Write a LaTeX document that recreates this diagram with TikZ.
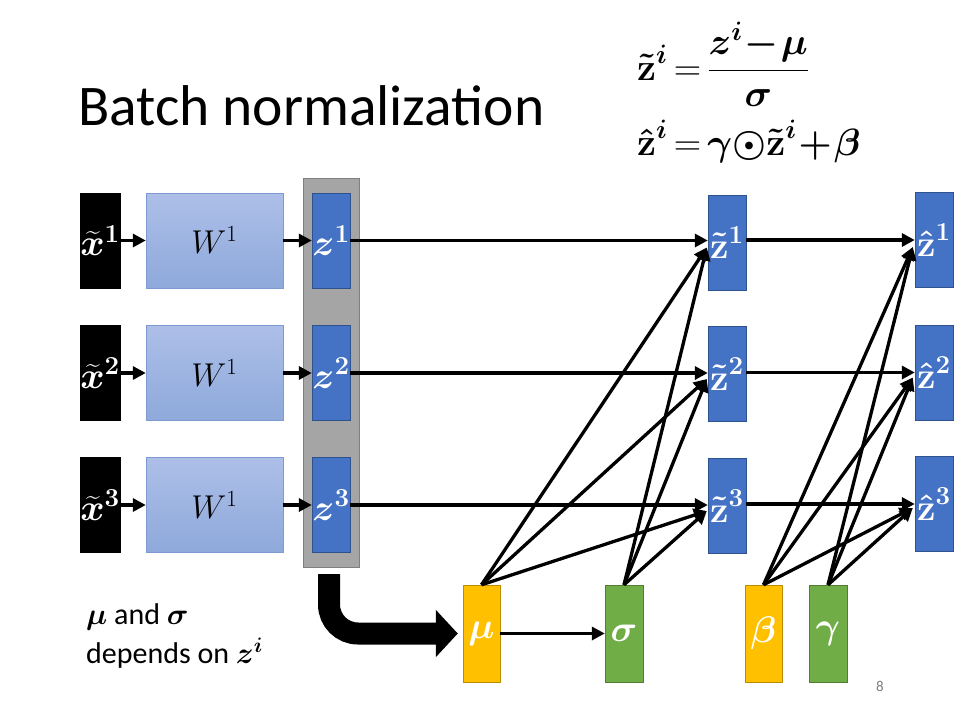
\RequirePackage{fix-cm}
\documentclass[tikz,border=0pt]{standalone}
\usepackage{amsmath,bm}
\usepackage[no-math]{fontspec}
\setmainfont{Carlito}
\usetikzlibrary{arrows.meta, calc}

\definecolor{zblue}{HTML}{4472C4}
\definecolor{zedge}{HTML}{2F528F}
\definecolor{wtop}{HTML}{ADBFE8}
\definecolor{wbot}{HTML}{8EA9DB}
\definecolor{wedge}{HTML}{7F9AD0}
\definecolor{gfill}{HTML}{A5A5A5}
\definecolor{gedge}{HTML}{7F7F7F}
\definecolor{ogold}{HTML}{FFC000}
\definecolor{oedge}{HTML}{BC8C00}
\definecolor{ggreen}{HTML}{70AD47}
\definecolor{ggedge}{HTML}{507E32}

\tikzset{
  tall/.style={minimum width=38pt, minimum height=95pt, inner sep=0pt,
    text=white, font=\fontsize{37}{42}\selectfont},
  xbox/.style={tall, draw=black, fill=black},
  wbox/.style={draw=wedge, top color=wtop, bottom color=wbot,
    minimum width=137pt, minimum height=95pt, inner sep=0pt,
    font=\fontsize{33}{38}\selectfont},
  zbox/.style={tall, draw=zedge, fill=zblue},
  obox/.style={tall, draw=oedge, fill=ogold, minimum width=37pt, minimum height=97pt},
  gbox/.style={tall, draw=ggedge, fill=ggreen, minimum height=97pt},
  arr/.style={line width=3.3pt, -{Triangle[length=13pt,width=13pt]}},
}

\begin{document}
\begin{tikzpicture}[x=1pt, y=-1pt]
  \path[fill=white, use as bounding box] (0,0) rectangle (960,720);

  % Title and formulas
  \node[anchor=base west, inner sep=0pt, font=\fontsize{57.5}{62}\selectfont]
    (title) at (78,125) {Batch normalization};
  \node[anchor=base west, inner sep=0pt, font=\fontsize{38}{44}\selectfont]
    (eqone) at (637,80)
    {$\bm{\tilde{\mathrm{z}}^{i}}\mskip-2mu=\mskip-2mu\dfrac{\bm{z^{i}\mskip-3mu-\mskip-3mu\mu}}{\bm{\sigma}}$};
  \node[anchor=base west, inner sep=0pt, font=\fontsize{38}{44}\selectfont]
    (eqtwo) at (637,155)
    {$\bm{\hat{\mathrm{z}}^{i}}\mskip-2mu=\mskip-2mu\bm{\gamma{\odot}\tilde{\mathrm{z}}^{i}\mskip-3mu+\mskip-3mu\beta}$};

  % Gray group behind z
  \node[draw=gedge, fill=gfill, minimum width=56pt, minimum height=389pt]
    (group) at (331,372.5) {};

  % Row 1
  \node[xbox] (x1) at (100,240.5) {$\bm{\widetilde{x}}^{\mathbf{1}}$};
  \node[wbox] (w1) at (214.5,240.5) {$W^{1}$};
  \node[zbox] (z1) at (331,240.5) {$\bm{z}^{\mathbf{1}}$};
  \node[zbox] (zt1) at (727,242.5) {$\bm{\tilde{\mathrm{z}}}^{\mathbf{1}}$};
  \node[zbox] (zh1) at (934,240) {$\bm{\hat{\mathrm{z}}}^{\mathbf{1}}$};
  % Row 2
  \node[xbox] (x2) at (100,373) {$\bm{\widetilde{x}}^{\mathbf{2}}$};
  \node[wbox] (w2) at (214.5,373) {$W^{1}$};
  \node[zbox] (z2) at (331,373) {$\bm{z}^{\mathbf{2}}$};
  \node[zbox] (zt2) at (727,374) {$\bm{\tilde{\mathrm{z}}}^{\mathbf{2}}$};
  \node[zbox] (zh2) at (934,372.5) {$\bm{\hat{\mathrm{z}}}^{\mathbf{2}}$};
  % Row 3
  \node[xbox] (x3) at (100,505) {$\bm{\widetilde{x}}^{\mathbf{3}}$};
  \node[wbox] (w3) at (214.5,505) {$W^{1}$};
  \node[zbox] (z3) at (331,505) {$\bm{z}^{\mathbf{3}}$};
  \node[zbox] (zt3) at (727,506) {$\bm{\tilde{\mathrm{z}}}^{\mathbf{3}}$};
  \node[zbox] (zh3) at (934,504) {$\bm{\hat{\mathrm{z}}}^{\mathbf{3}}$};

  % Statistics and parameters
  \node[obox] (mu) at (481.5,633.5) {$\bm{\mu}$};
  \node[gbox] (sigma) at (624,633.5) {$\bm{\sigma}$};
  \node[obox] (beta) at (763.5,633.5) {$\bm{\beta}$};
  \node[gbox] (gamma) at (828,633.5) {$\bm{\gamma}$};

  % Note and page number
  \node[anchor=base west, inner sep=0pt, align=left,
    font=\fontsize{30}{39}\selectfont] (note) at (86,663)
    {$\bm{\mu}$ and $\bm{\sigma}$\\depends on $\bm{z^{i}}$};
  \node[text=gray, font=\fontsize{15}{18}\selectfont] (page) at (880,686) {8};

  % Big arrow into mu
  \draw[line width=22pt, rounded corners=29pt, shorten >=5pt,
    -{Triangle[length=22pt,width=46pt]}]
    ($(group.south)+(-2,7)$) |- (mu.west);

  % Forward arrows
  \draw[arr] (x1.east) -- (w1.west);
  \draw[arr] (x2.east) -- (w2.west);
  \draw[arr] (x3.east) -- (w3.west);
  \draw[arr] (w1.east) -- (z1.west);
  \draw[arr] (w2.east) -- (z2.west);
  \draw[arr] (w3.east) -- (z3.west);
  \draw[arr] (z1.east) -- (z1.east -| zt1.west);
  \draw[arr] (z2.east) -- (z2.east -| zt2.west);
  \draw[arr] (z3.east) -- (z3.east -| zt3.west);
  \draw[arr] (zt1.east |- zh1.west) -- (zh1.west);
  \draw[arr] (zt2.east |- zh2.west) -- (zh2.west);
  \draw[arr] (zt3.east |- zh3.west) -- (zh3.west);
  \draw[arr] (mu.east) -- (sigma.west);

  % mu and sigma to z tilde
  \draw[arr] (mu.north) -- ($(zt1.west)+(-1,5)$);
  \draw[arr] (mu.north) -- ($(zt2.west)+(-1,5)$);
  \draw[arr] (mu.north) -- ($(zt3.west)+(-1,5)$);
  \draw[arr] (sigma.north) -- ($(zt1.west)+(-1,5)$);
  \draw[arr] (sigma.north) -- ($(zt2.west)+(-1,5)$);
  \draw[arr] (sigma.north) -- ($(zt3.west)+(-1,5)$);
  % beta and gamma to z hat
  \draw[arr] (beta.north) -- ($(zh1.west)+(-2,7)$);
  \draw[arr] (beta.north) -- ($(zh2.west)+(-2,5)$);
  \draw[arr] (beta.north) -- ($(zh3.west)+(-2,4)$);
  \draw[arr] (gamma.north) -- ($(zh1.west)+(-2,7)$);
  \draw[arr] (gamma.north) -- ($(zh2.west)+(-2,5)$);
  \draw[arr] (gamma.north) -- ($(zh3.west)+(-2,4)$);
\end{tikzpicture}
\end{document}
